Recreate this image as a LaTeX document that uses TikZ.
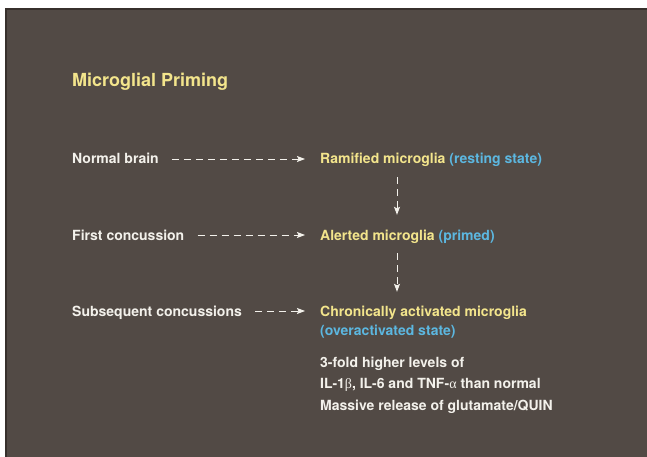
\documentclass[tikz,border=0pt]{standalone}
\usepackage{fontspec}
\setmainfont{TeX Gyre Heros}
\newfontfamily\greekserif{Liberation Serif}
\usetikzlibrary{arrows.meta}

\definecolor{slate}{RGB}{82,74,69}
\definecolor{slateedge}{RGB}{55,48,44}
\definecolor{primyellow}{RGB}{243,229,140}
\definecolor{statblue}{RGB}{92,183,224}
\definecolor{offwhite}{RGB}{243,241,235}

\begin{document}
\begin{tikzpicture}[x=1pt,y=-1pt,
	lbl/.style={anchor=base west,inner sep=0pt,text height=10pt,text depth=0pt,
		font=\bfseries\fontsize{14}{21.5}\selectfont},
	flow/.style={draw=offwhite,line width=0.9pt,dash pattern=on 7pt off 5pt,
		-{Stealth[length=8pt,width=6pt,inset=1.5pt]}}]
	\useasboundingbox (0,0) rectangle (647,457);
	
	\fill[slate] (6,9) rectangle (647,457);
	\draw[slateedge,line width=1.5pt] (6,457) -- (6,9) -- (647,9);
	
	\node[anchor=base west,inner sep=0pt,text=primyellow,font=\bfseries\fontsize{18}{20}\selectfont] (title) at (72,87) {Microglial Priming};
	
	\node[lbl,text=offwhite] (nb) at (72,164) {Normal brain};
	\node[lbl,text=primyellow] (ram) at (320,164) {Ramified microglia \textcolor{statblue}{(resting state)}};
	
	\node[lbl,text=offwhite] (fc) at (72,240) {First concussion};
	\node[lbl,text=primyellow] (alr) at (320,240) {Alerted microglia \textcolor{statblue}{(primed)}};
	
	\node[lbl,text=offwhite] (sc) at (72,316) {Subsequent concussions};
	\node[lbl,text=primyellow] (chr) at (320,316) {Chronically activated microglia};
	\node[lbl,text=statblue] (ovr) at (320,335.5) {(overactivated state)};
	
	\node[anchor=north west,inner sep=0pt,align=left,text=offwhite,
		font=\bfseries\fontsize{14}{21.5}\selectfont] (eff) at (320,356.5)
		{3-fold higher levels of\\IL-1{\greekserif\mdseries β}, IL-6 and TNF-{\greekserif\mdseries α} than normal\\Massive release of glutamate/QUIN};
	
	\coordinate (col) at (397,0);
	
	\draw[flow,shorten <=13pt,shorten >=15pt] (nb) -- (ram.west |- nb);
	\draw[flow,shorten <=13pt,shorten >=15pt] (fc) -- (alr.west |- fc);
	\draw[flow,shorten <=13pt,shorten >=15pt] (sc) -- (chr.west |- sc);
	
	\draw[flow,shorten <=13pt,shorten >=15pt] (ram.south -| col) -- (alr.north -| col);
	\draw[flow,shorten <=13pt,shorten >=14pt] (alr.south -| col) -- (chr.north -| col);
\end{tikzpicture}
\end{document}
